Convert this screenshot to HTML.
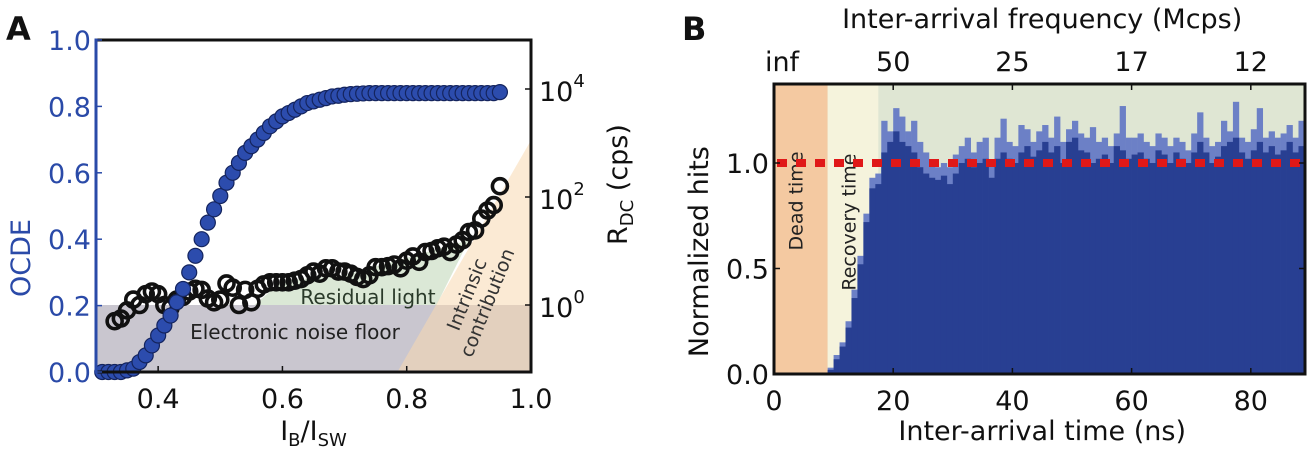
<!DOCTYPE html>
<html><head><meta charset="utf-8"><style>
body{margin:0;background:#fff;}
svg text{font-family:"DejaVu Sans","Liberation Sans",sans-serif;}
</style></head><body>
<svg id="fig" width="1316" height="455" viewBox="0 0 1316 455" xmlns="http://www.w3.org/2000/svg">
<g id="A"></g>
<g id="B"></g>
</svg>
<script>
// Panel A data
const ocdeX = [0.31,0.32,0.33,0.34,0.35,0.36,0.37,0.38,0.39,0.40,0.41,0.42,0.43,0.44,0.45,0.46,0.47,0.48,0.49,0.50,0.51,0.52,0.53,0.54,0.55,0.56,0.57,0.58,0.59,0.60,0.61,0.62,0.63,0.64,0.65,0.66,0.67,0.68,0.69,0.70,0.71,0.72,0.73,0.74,0.75,0.76,0.77,0.78,0.79,0.80,0.81,0.82,0.83,0.84,0.85,0.86,0.87,0.88,0.89,0.90,0.91,0.92,0.93,0.94,0.95];
const ocdeY = [0,0,0,0,0.005,0.01,0.03,0.05,0.08,0.11,0.14,0.17,0.21,0.25,0.30,0.35,0.40,0.45,0.49,0.53,0.57,0.60,0.63,0.66,0.68,0.70,0.72,0.74,0.755,0.77,0.78,0.79,0.80,0.81,0.815,0.82,0.825,0.83,0.832,0.835,0.837,0.838,0.839,0.84,0.84,0.84,0.84,0.84,0.84,0.84,0.84,0.84,0.84,0.84,0.84,0.84,0.84,0.84,0.84,0.84,0.84,0.84,0.84,0.84,0.843];
const rdcX = [0.33,0.34,0.35,0.36,0.37,0.38,0.39,0.40,0.41,0.42,0.43,0.44,0.45,0.46,0.47,0.48,0.49,0.50,0.51,0.52,0.53,0.54,0.55,0.56,0.57,0.58,0.59,0.60,0.61,0.62,0.63,0.64,0.65,0.66,0.67,0.68,0.69,0.70,0.71,0.72,0.73,0.74,0.75,0.76,0.77,0.78,0.79,0.80,0.81,0.82,0.83,0.84,0.85,0.86,0.87,0.88,0.89,0.90,0.91,0.92,0.93,0.94,0.95];
const rdcLog = [-0.3,-0.25,-0.1,0.1,0.0,0.2,0.25,0.2,0.0,-0.05,0.1,0.15,0.25,0.3,0.28,0.12,0.05,0.1,0.4,0.32,0.0,0.28,0.05,0.3,0.38,0.42,0.42,0.42,0.42,0.45,0.48,0.55,0.62,0.58,0.68,0.68,0.62,0.62,0.58,0.52,0.48,0.55,0.7,0.7,0.72,0.75,0.68,0.82,0.9,0.8,0.98,1.0,1.05,1.08,0.98,1.12,1.2,1.35,1.38,1.6,1.75,1.85,2.2];
const axAxTicks = [0.4,0.6,0.8,1.0];
const axAyTicks = [0.0,0.2,0.4,0.6,0.8,1.0];
const axArTicks = [0,2,4];
// Panel B data
const binStart = [];
for(let i=0;i<90;i++) binStart.push(i);
const histDark = [0,0,0,0,0,0,0,0,0,0.02,0.07,0.13,0.22,0.36,0.52,0.72,0.88,0.9,1.05,1.1,1.15,1.1,1.08,1.05,0.98,0.95,0.93,0.92,0.94,0.9,0.95,1.0,1.02,0.98,1.0,1.02,0.93,1.02,1.05,1.02,1.0,1.05,1.08,1.03,1.06,1.1,1.05,1.08,1.0,1.1,1.12,1.06,1.05,1.0,1.02,1.04,1.0,1.08,1.06,1.02,1.04,1.05,1.02,1.0,1.06,1.04,1.0,1.05,1.02,1.0,1.05,1.1,1.05,1.0,1.03,1.08,1.1,1.12,1.05,1.02,1.06,1.1,1.05,1.08,1.04,1.06,1.1,1.05,1.08,1.04];
const histLight = [0,0,0,0,0,0,0,0,0,0.03,0.09,0.15,0.25,0.4,0.56,0.76,0.93,0.95,1.2,1.15,1.26,1.22,1.15,1.2,1.1,1.05,1.0,0.98,1.0,0.98,1.04,1.08,1.12,1.05,1.1,1.12,1.0,1.12,1.21,1.1,1.08,1.18,1.16,1.1,1.15,1.18,1.12,1.22,1.1,1.16,1.2,1.14,1.12,1.17,1.1,1.12,1.08,1.14,1.27,1.12,1.12,1.14,1.1,1.08,1.14,1.12,1.08,1.12,1.1,1.06,1.14,1.24,1.12,1.08,1.1,1.2,1.15,1.29,1.12,1.1,1.16,1.26,1.12,1.15,1.12,1.14,1.18,1.12,1.2,1.2];
const bxTicks = [0,20,40,60,80];
const byTicks = [0.0,0.5,1.0];
const topTickNs = [0,20,40,60,80];
const topTickLabels = ['inf','50','25','17','12'];

const NS='http://www.w3.org/2000/svg';
function mk(parent,tag,attrs,text){const e=document.createElementNS(NS,tag);for(const k in attrs)e.setAttribute(k,attrs[k]);if(text!==undefined)e.textContent=text;parent.appendChild(e);return e;}

// ---- Panel A ----
const A=document.getElementById('A');
const aL=96,aR=531,aT=40,aB=372;
const ax=v=>aL+(v-0.3)/0.7*(aR-aL);
const ay=v=>aB-v*(aB-aT);
const ar=l=>305-l*54;
let r=mk(A,'rect',{x:aL,y:ar(0),width:aR-aL,height:aB-ar(0),fill:'#c9c6cf'});

let p=mk(A,'polygon',{points:`${ax(0.555)},${ar(0)} ${ax(0.6)},${ar(0.45)} ${ax(0.7)},${ar(0.55)} ${ax(0.9)},${ar(1.2)} ${ax(0.848)},${ar(0)}`,fill:'#dbe8d6'});

p=mk(A,'polygon',{points:`${ax(0.785)},${aB} ${ax(1.0)},${ar(3.05)} ${ax(1.0)},${aB}`,fill:'#f8d9b0','fill-opacity':'0.55'});

let t=mk(A,'text',{x:295,y:339,'font-size':20,'text-anchor':'middle',fill:'#222'},'Electronic noise floor');

t=mk(A,'text',{x:368,y:304,'font-size':20,'text-anchor':'middle',fill:'#2a3a2a'},'Residual light');

t=mk(A,'text',{transform:`translate(${ax(0.9)+4},${ar(0.15)}) rotate(-68)`,'font-size':19,'text-anchor':'middle',fill:'#333'});

mk(t,'tspan',{x:0,dy:0},'Intrinsic');mk(t,'tspan',{x:0,dy:22},'contribution');
rdcX.forEach((x,i)=>{const c=mk(A,'circle',{cx:ax(x),cy:ar(rdcLog[i]),r:7.5,fill:'none',stroke:'#111','stroke-width':3.6});
});
ocdeX.forEach((x,i)=>{const c=mk(A,'circle',{cx:ax(x),cy:ay(ocdeY[i]),r:7.5,fill:'#2c4cad',stroke:'#14245e','stroke-width':1.2});
});
r=mk(A,'rect',{x:aL,y:aT,width:aR-aL,height:aB-aT,fill:'none',stroke:'#111','stroke-width':3});

let l=mk(A,'line',{x1:aL,y1:aT-1.5,x2:aL,y2:aB+1.5,stroke:'#2a4aa8','stroke-width':3});

axAxTicks.forEach(v=>{mk(A,'line',{x1:ax(v),y1:aB,x2:ax(v),y2:aB-6,stroke:'#111','stroke-width':1.5});
const tt=mk(A,'text',{x:ax(v),y:aB+36,'font-size':27,'text-anchor':'middle',fill:'#111'},v.toFixed(1));
});
axAyTicks.forEach(v=>{mk(A,'line',{x1:aL,y1:ay(v),x2:aL+6,y2:ay(v),stroke:'#2a4aa8','stroke-width':1.5});
const tt=mk(A,'text',{x:aL-5,y:ay(v)+10,'font-size':27,'text-anchor':'end',fill:'#2a4aa8'},v.toFixed(1));
});
axArTicks.forEach(v=>{mk(A,'line',{x1:aR,y1:ar(v),x2:aR-6,y2:ar(v),stroke:'#111','stroke-width':1.5});
const tt=mk(A,'text',{x:aR+8,y:ar(v)+12,'font-size':27,fill:'#111'},'10');

mk(tt,'tspan',{dy:-14,'font-size':18},String(v));});
t=mk(A,'text',{x:ax(0.65),y:440,'font-size':27,'text-anchor':'middle',fill:'#111'});

mk(t,'tspan',{},'I');mk(t,'tspan',{'font-size':18,dy:6},'B');mk(t,'tspan',{dy:-6},'/I');mk(t,'tspan',{'font-size':18,dy:6},'SW');
t=mk(A,'text',{transform:'translate(30,258) rotate(-90)','font-size':27,'text-anchor':'middle',fill:'#2a4aa8'},'OCDE');

t=mk(A,'text',{transform:'translate(627,245) rotate(-90)','font-size':27,fill:'#111'});

mk(t,'tspan',{},'R');mk(t,'tspan',{'font-size':18,dy:6},'DC');mk(t,'tspan',{dy:-6},' (cps)');
t=mk(A,'text',{x:6,y:40,'font-size':32,'font-weight':'bold',fill:'#111'},'A');


// ---- Panel B ----
const B=document.getElementById('B');
const bL=774,bR=1305,bT=84,bB=374;
const bx=v=>bL+v*5.96;
const by=v=>bB-v*211;
r=mk(B,'rect',{x:bL,y:bT,width:bR-bL,height:bB-bT,fill:'#dfe6d3'});

r=mk(B,'rect',{x:bx(0),y:bT,width:bx(9)-bx(0),height:bB-bT,fill:'#f4c9a1'});

r=mk(B,'rect',{x:bx(9),y:bT,width:bx(17.5)-bx(9),height:bB-bT,fill:'#f5f3dc'});

binStart.forEach((s,i)=>{if(histLight[i]>0){const b=mk(B,'rect',{x:bx(s),y:by(histLight[i]),width:Math.min(bx(s+1),bR)-bx(s)+0.3,height:bB-by(histLight[i]),fill:'#6c80c6'});
}});
binStart.forEach((s,i)=>{if(histDark[i]>0){const b=mk(B,'rect',{x:bx(s),y:by(histDark[i]),width:Math.min(bx(s+1),bR)-bx(s)+0.3,height:bB-by(histDark[i]),fill:'#283f92'});
}});
t=mk(B,'text',{transform:`translate(${bx(4.8)},${by(0.82)}) rotate(-90)`,'font-size':19,'text-anchor':'middle',fill:'#222'},'Dead time');

t=mk(B,'text',{transform:`translate(${bx(13.7)},${by(0.72)}) rotate(-90)`,'font-size':19,'text-anchor':'middle',fill:'#222'},'Recovery time');

l=mk(B,'line',{x1:bL+3,y1:by(1.0),x2:bR-3,y2:by(1.0),stroke:'#e01818','stroke-width':8,'stroke-dasharray':'10 9'});

r=mk(B,'rect',{x:bL,y:bT,width:bR-bL,height:bB-bT,fill:'none',stroke:'#111','stroke-width':3});

bxTicks.forEach(v=>{mk(B,'line',{x1:bx(v),y1:bB,x2:bx(v),y2:bB-6,stroke:'#111','stroke-width':1.5});
const tt=mk(B,'text',{x:bx(v),y:bB+36,'font-size':27,'text-anchor':'middle',fill:'#111'},String(v));
});
byTicks.forEach(v=>{mk(B,'line',{x1:bL,y1:by(v),x2:bL+6,y2:by(v),stroke:'#111','stroke-width':1.5});
mk(B,'line',{x1:bR,y1:by(v),x2:bR-6,y2:by(v),stroke:'#111','stroke-width':1.5});
const tt=mk(B,'text',{x:bL-5,y:by(v)+10,'font-size':27,'text-anchor':'end',fill:'#111'},v.toFixed(1));
});
topTickNs.forEach((v,i)=>{mk(B,'line',{x1:bx(v),y1:bT,x2:bx(v),y2:bT+6,stroke:'#111','stroke-width':1.5});
const tt=mk(B,'text',{x:bx(v)+(i===0?8:0),y:bT-13,'font-size':27,'text-anchor':'middle',fill:'#111'},topTickLabels[i]);
});
t=mk(B,'text',{x:bx(45),y:440,'font-size':27,'text-anchor':'middle',fill:'#111'},'Inter-arrival time (ns)');

t=mk(B,'text',{x:bx(45),y:28,'font-size':27,'text-anchor':'middle',fill:'#111','xml:space':'preserve'},'Inter-arrival  frequency (Mcps)');

t=mk(B,'text',{transform:`translate(708,${by(0.58)}) rotate(-90)`,'font-size':27,'text-anchor':'middle',fill:'#111'},'Normalized hits');

t=mk(B,'text',{x:682,y:40,'font-size':32,'font-weight':'bold',fill:'#111'},'B');

</script>
</body></html>
